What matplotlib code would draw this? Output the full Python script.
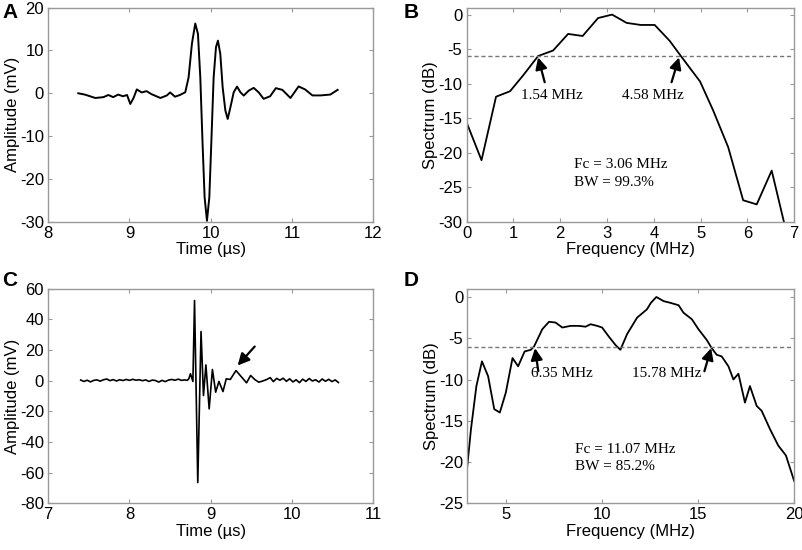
import numpy as np
import matplotlib
matplotlib.use("Agg")
import matplotlib.pyplot as plt

# Panel A: pulse-echo waveform (time in us, amplitude in mV)
t_a = [8.37, 8.45, 8.58, 8.68, 8.74, 8.80, 8.86, 8.92, 8.97, 9.01, 9.05, 9.09,
       9.15, 9.21, 9.27, 9.38, 9.46, 9.50, 9.56, 9.62, 9.686, 9.727, 9.768, 9.809,
       9.842, 9.871, 9.899, 9.924, 9.953, 9.982, 10.006, 10.035, 10.064, 10.088,
       10.117, 10.146, 10.179, 10.208, 10.241, 10.282, 10.323, 10.364, 10.405,
       10.467, 10.528, 10.59, 10.65, 10.73, 10.80, 10.88, 10.98, 11.08, 11.16,
       11.25, 11.35, 11.47, 11.56]
v_a = [0.0, -0.3, -1.1, -0.9, -0.4, -0.9, -0.3, -0.7, -0.4, -2.5, -1.1, 0.9,
       0.2, 0.5, -0.2, -1.1, -0.5, 0.2, -0.8, -0.4, 0.24, 3.7, 11.6, 16.3,
       13.9, 3.7, -11.8, -24.3, -29.8, -24.3, -11.8, 3.7, 10.8, 12.3,
       9.2, 1.4, -4.0, -6.0, -3.3, 0.24, 1.57, 0.24, -0.54,
       0.63, 1.26, 0.2, -1.3, -0.7, 1.2, 0.8, -1.1, 1.6, 0.9,
       -0.5, -0.5, -0.3, 0.8]

# Panel B: spectrum of A
f_b = [0.0, 0.32, 0.63, 0.93, 1.21, 1.53, 1.85, 2.17, 2.48, 2.81, 3.11, 3.42,
       3.72, 4.02, 4.34, 4.59, 4.99, 5.27, 5.59, 5.91, 6.20, 6.52, 6.85]
s_b = [-15.6, -21.1, -11.9, -11.1, -8.8, -6.0, -5.2, -2.8, -3.1, -0.5, 0.0, -1.2,
       -1.5, -1.5, -3.8, -6.1, -9.7, -13.9, -19.2, -26.9, -27.5, -22.6, -32.0]

# Panel C: waveform with secondary echo
t_c = [7.40, 7.44, 7.48, 7.52, 7.56, 7.60, 7.64, 7.68, 7.72, 7.76, 7.80, 7.84,
       7.88, 7.92, 7.96, 8.00, 8.04, 8.08, 8.12, 8.16, 8.20, 8.24, 8.28, 8.32,
       8.36, 8.40, 8.44, 8.48, 8.52, 8.56, 8.60, 8.64, 8.68, 8.71,
       8.73, 8.75, 8.78, 8.80, 8.84, 8.88, 8.91, 8.94, 8.98, 9.02, 9.06, 9.10,
       9.15, 9.19, 9.24, 9.31, 9.38, 9.44, 9.49, 9.54, 9.59, 9.64, 9.69,
       9.73, 9.77, 9.81, 9.85, 9.89, 9.93, 9.97, 10.01, 10.05, 10.09, 10.13,
       10.17, 10.21, 10.25, 10.29, 10.33, 10.37, 10.41, 10.45, 10.49, 10.53,
       10.57]
v_c = [0.4, -0.5, 0.3, -0.8, 0.2, 0.5, -0.3, 0.6, 1.1, 0.0, 0.7, -0.2,
       0.6, 0.1, 0.8, 0.2, 0.9, 0.3, 0.6, 0.0, 0.5, -0.5, 0.4, 0.1,
       -0.9, 0.2, -0.6, 0.4, 0.8, 0.3, 1.0, 0.2, 0.5, 0.2,
       1.2, 4.5, -0.5, 52.3, -66.5, 32.1, -9.7, 10.3, -18.4, 7.3, -7.5, -0.5,
       -7.1, 1.2, 0.8, 6.6, 2.3, -1.4, 3.4, 0.8, -1.0, -0.2, 0.8,
       2.0, -0.6, 1.5, 0.3, 1.6, -0.4, 1.2, -0.8, 0.6, -1.3, 1.0,
       -0.5, 1.4, -0.2, 0.6, -0.9, 1.1, -0.4, 0.9, -0.6, 0.5,
       -1.2]

# Panel D: spectrum of C
f_d = [2.98, 3.19, 3.47, 3.76, 4.08, 4.40, 4.69, 5.00, 5.35, 5.64, 5.98, 6.30,
       6.47, 6.90, 7.25, 7.59, 7.94, 8.37, 8.80, 9.15, 9.41, 9.75, 10.01, 10.36,
       10.70, 10.96, 11.31, 11.83, 12.34, 12.55, 12.83, 13.21, 13.55, 13.99,
       14.24, 14.68, 15.02, 15.45, 15.71, 15.97, 16.23, 16.58, 16.84, 17.10,
       17.44, 17.70, 18.05, 18.31, 18.74, 19.17, 19.57, 20.00]
s_d = [-20.9, -16.0, -10.8, -7.8, -9.6, -13.6, -14.0, -11.6, -7.4, -8.4, -6.6, -6.4,
       -6.0, -3.9, -3.0, -3.1, -3.7, -3.5, -3.5, -3.6, -3.3, -3.5, -3.7, -4.8,
       -5.8, -6.4, -4.5, -2.5, -1.5, -0.7, 0.0, -0.5, -0.7, -1.0,
       -1.9, -2.7, -3.9, -5.2, -6.2, -7.0, -7.2, -8.4, -10.0, -9.3,
       -12.8, -10.8, -13.2, -13.8, -16.0, -18.0, -19.2, -22.3]

plt.rcParams['font.family'] = ['Liberation Sans', 'DejaVu Sans']
plt.rcParams['font.size'] = 12
plt.rcParams['axes.unicode_minus'] = False

fig = plt.figure(figsize=(8.03, 5.5), dpi=100)
axA = fig.add_axes([0.060, 0.597, 0.405, 0.389])
axB = fig.add_axes([0.581, 0.597, 0.408, 0.389])
axC = fig.add_axes([0.060, 0.085, 0.405, 0.390])
axD = fig.add_axes([0.582, 0.085, 0.407, 0.390])

def style(ax):
    for s in ax.spines.values():
        s.set_color('#999999')
        s.set_linewidth(1.0)
    ax.tick_params(direction='in', length=3, color='#999999', top=True, right=True,
                   labelsize=12, pad=3)

serif = ['Liberation Serif', 'DejaVu Serif']
arrow = dict(arrowstyle='-|>,head_length=0.5,head_width=0.25', color='black', lw=1.6,
             shrinkA=0, shrinkB=0, mutation_scale=14)
note = dict(family=serif, fontsize=11)

# A
axA.plot(t_a, v_a, color='black', lw=1.4)
axA.set_xlim(8, 12)
axA.set_ylim(-30, 20)
axA.set_xticks([8, 9, 10, 11, 12])
axA.set_yticks([-30, -20, -10, 0, 10, 20])
axA.set_xlabel('Time (\u00b5s)', labelpad=1)
axA.set_ylabel('Amplitude (mV)', labelpad=0)
style(axA)

# B
axB.plot(f_b, s_b, color='black', lw=1.3)
axB.axhline(-6, color='#777777', ls='--', lw=1.0, dashes=(3, 2))
axB.set_xlim(0, 7)
axB.set_ylim(-30, 1)
axB.set_xticks(range(0, 8))
axB.set_yticks([-30, -25, -20, -15, -10, -5, 0])
axB.set_xlabel('Frequency (MHz)', labelpad=1)
axB.set_ylabel('Spectrum (dB)', labelpad=0)
axB.annotate('', xy=(1.53, -6.2), xytext=(1.67, -9.8), arrowprops=arrow)
axB.annotate('', xy=(4.54, -6.2), xytext=(4.38, -9.8), arrowprops=arrow)
axB.text(1.82, -11.7, '1.54 MHz', ha='center', va='center', **note)
axB.text(3.99, -11.7, '4.58 MHz', ha='center', va='center', **note)
axB.text(2.29, -21.7, 'Fc = 3.06 MHz', ha='left', va='center', **note)
axB.text(2.29, -24.3, 'BW = 99.3%', ha='left', va='center', **note)
style(axB)

# C
axC.plot(t_c, v_c, color='black', lw=1.2)
axC.set_xlim(7, 11)
axC.set_ylim(-80, 60)
axC.set_xticks([7, 8, 9, 10, 11])
axC.set_yticks([-80, -60, -40, -20, 0, 20, 40, 60])
axC.set_xlabel('Time (\u00b5s)', labelpad=1)
axC.set_ylabel('Amplitude (mV)', labelpad=0)
axC.annotate('', xy=(9.33, 9.9), xytext=(9.54, 22.3), arrowprops=arrow)
style(axC)

# D
axD.plot(f_d, s_d, color='black', lw=1.3)
axD.axhline(-6, color='#777777', ls='--', lw=1.0, dashes=(3, 2))
axD.set_xlim(3, 20)
axD.set_ylim(-25, 1)
axD.set_xticks([5, 10, 15, 20])
axD.set_yticks([-25, -20, -15, -10, -5, 0])
axD.set_xlabel('Frequency (MHz)', labelpad=1)
axD.set_ylabel('Spectrum (dB)', labelpad=0)
axD.annotate('', xy=(6.52, -6.2), xytext=(6.69, -9.0), arrowprops=arrow)
axD.annotate('', xy=(15.68, -6.2), xytext=(15.33, -9.0), arrowprops=arrow)
axD.text(7.94, -9.3, '6.35 MHz', ha='center', va='center', **note)
axD.text(13.38, -9.3, '15.78 MHz', ha='center', va='center', **note)
axD.text(8.58, -18.5, 'Fc = 11.07 MHz', ha='left', va='center', **note)
axD.text(8.58, -20.6, 'BW = 85.2%', ha='left', va='center', **note)
style(axD)

for lbl, x, y in [('A', 0.003, 0.978), ('B', 0.503, 0.978), ('C', 0.003, 0.49), ('D', 0.503, 0.49)]:
    fig.text(x, y, lbl, fontsize=15, fontweight='bold', ha='left', va='center')

fig.savefig('out.png', dpi=100)
